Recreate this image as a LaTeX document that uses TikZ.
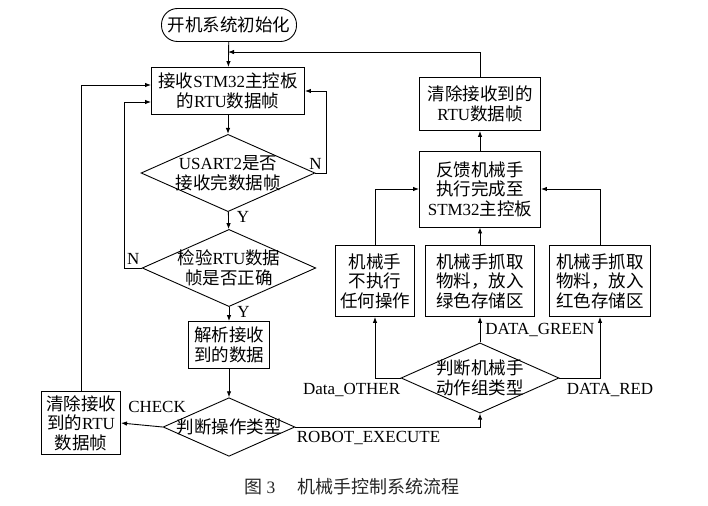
\documentclass[tikz,border=0pt]{standalone}
\usepackage{fontspec}
\usepackage{tikz}
\usetikzlibrary{shapes.geometric,arrows.meta}
\setmainfont{Noto Sans CJK SC}
\newfontfamily\en[Scale=0.97]{Liberation Serif}

\tikzset{
	box/.style={draw, line width=0.9pt, align=center, inner sep=1pt},
	decision/.style={draw, line width=0.9pt, diamond, aspect=2.25, inner sep=-1.5pt, align=center},
	flow/.style={line width=0.9pt, -{Latex[length=6pt,width=4.5pt]}},
	tag/.style={font=\en\fontsize{17.5}{19.5}\selectfont, inner sep=0pt}
}

\begin{document}
\begin{tikzpicture}[x=1pt, y=-1pt, font=\fontsize{17.5}{19.5}\selectfont]
	\useasboundingbox (0,0) rectangle (708,505);
	% left column
	\node[box, rounded corners=16pt, minimum width=135pt, minimum height=33pt] (start) at (229,25) {开机系统初始化};
	\node[box, minimum width=153pt, minimum height=47pt] (recv) at (228,91) {接收{\en STM32}主控板\\的{\en RTU}数据帧};
	\node[decision] (chk1) at (228,173) {{\en USART2}是否\\接收完数据帧};
	\node[decision] (chk2) at (229,268) {检验{\en RTU}数据\\帧是否正确};
	\node[box, minimum width=81pt, minimum height=47pt] (parse) at (229,345) {解析接收\\到的数据};
	\node[decision] (optype) at (229,427) {判断操作类型};
	\node[box, minimum width=79pt, minimum height=63pt] (clrL) at (81,423) {清除接收\\到的{\en RTU}\\数据帧};
	% right column
	\node[decision] (acttype) at (480,378) {判断机械手\\动作组类型};
	\node[box, minimum width=79pt, minimum height=71pt] (other) at (375,281) {机械手\\不执行\\任何操作};
	\node[box, minimum width=109pt, minimum height=71pt] (green) at (480,281) {机械手抓取\\物料，放入\\绿色存储区};
	\node[box, minimum width=101pt, minimum height=71pt] (red) at (600,281) {机械手抓取\\物料，放入\\红色存储区};
	\node[box, minimum width=121pt, minimum height=76pt] (feedback) at (480,189) {反馈机械手\\执行完成至\\{\en STM32}主控板};
	\node[box, minimum width=121pt, minimum height=53pt] (clrR) at (480,104) {清除接收到的\\{\en RTU}数据帧};
	\node[font=\fontsize{18}{20}\selectfont, text=black!85] (caption) at (352,487) {图~{\en 3}\hspace{22pt}机械手控制系统流程};

	% connectors
	\draw[flow] (start) -- (recv);
	\draw[flow] (recv) -- (chk1);
	\draw[flow] (chk1) -- (chk2) node[tag, pos=0.3, right=8pt] {Y};
	\draw[flow] (chk1.east) node[tag, above=3pt] {N} -- ++(11,0) |- (recv.east);
	\draw[flow] (chk2.west) -- node[tag, above=3pt] {N} ++(-17,0) |- ([yshift=-11pt]recv.west);
	\draw[flow] (clrL.north) |- ([yshift=6pt]recv.west);
	\draw[flow] (chk2) -- (parse) node[tag, pos=0.35, right=8pt] {Y};
	\draw[flow] (parse) -- (optype);
	\draw[flow] (optype.west) -- (clrL.east) node[tag, pos=0.135, above=13pt] {CHECK};
	\draw[flow] (optype.east) node[tag, anchor=north west, xshift=1pt, yshift=-4pt] {ROBOT\_EXECUTE} -| (acttype.south);
	\draw[flow] (acttype.west) node[tag, anchor=north east, yshift=-5pt] {Data\_OTHER} -| (other.south);
	\draw[flow] (acttype.east) node[tag, anchor=north west, xshift=7pt, yshift=-5pt] {DATA\_RED} -| (red.south);
	\draw[flow] (acttype.north) -- (green.south) node[tag, pos=0.5, right=5pt] {DATA\_GREEN};
	\draw[flow] (other.north) |- (feedback.west);
	\draw[flow] (red.north) |- (feedback.east);
	\draw[flow] (green) -- (feedback);
	\draw[flow] (feedback) -- (clrR);
	\draw[flow] (clrR.north) |- ([yshift=15pt]recv.north);
\end{tikzpicture}
\end{document}
